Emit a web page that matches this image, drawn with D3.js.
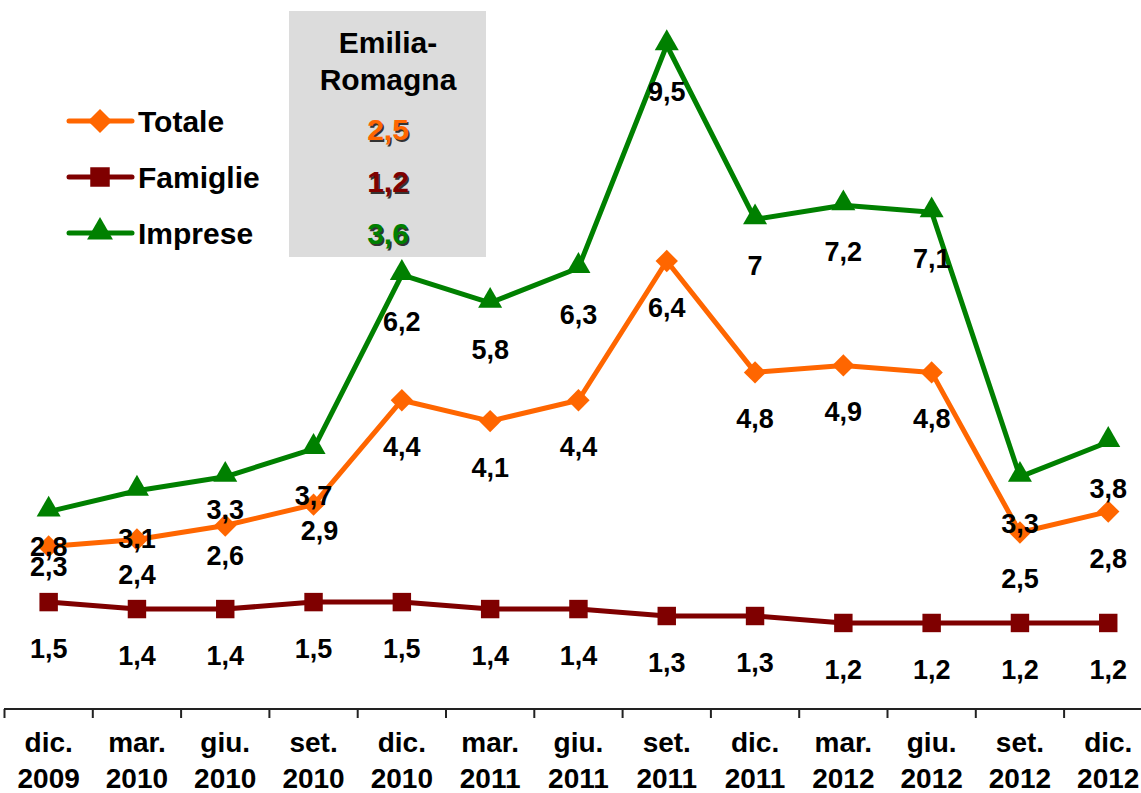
<!DOCTYPE html>
<html>
<head>
<meta charset="utf-8">
<script src="https://cdn.jsdelivr.net/npm/d3@7/dist/d3.min.js"></script>
<style>
  html, body { margin: 0; padding: 0; background: #fff; }
  svg { display: block; font-family: "Liberation Sans", Arial, sans-serif; }
</style>
</head>
<body>
<svg id="chart" width="1141" height="793"></svg>
<script>
// ---- data ----
const months = ["dic.", "mar.", "giu.", "set.", "dic.", "mar.", "giu.", "set.", "dic.", "mar.", "giu.", "set.", "dic."];
const years  = ["2009", "2010", "2010", "2010", "2010", "2011", "2011", "2011", "2011", "2012", "2012", "2012", "2012"];
const totale   = [2.3, 2.4, 2.6, 2.9, 4.4, 4.1, 4.4, 6.4, 4.8, 4.9, 4.8, 2.5, 2.8];
const famiglie = [1.5, 1.4, 1.4, 1.5, 1.5, 1.4, 1.4, 1.3, 1.3, 1.2, 1.2, 1.2, 1.2];
const imprese  = [2.8, 3.1, 3.3, 3.7, 6.2, 5.8, 6.3, 9.5, 7.0, 7.2, 7.1, 3.3, 3.8];
const seriesNames = ["Totale", "Famiglie", "Imprese"];
const regionTitle = ["Emilia-", "Romagna"];
const regionValues = [2.5, 1.2, 3.6];

// ---- layout / style (not data) ----
const colors = { Totale: "#FF6600", Famiglie: "#7F0000", Imprese: "#008000" };
// square diamond (equal width and height)
const squareDiamond = {
  draw(ctx, size) {
    const r = Math.sqrt(size / 2);
    ctx.moveTo(0, -r); ctx.lineTo(r, 0); ctx.lineTo(0, r); ctx.lineTo(-r, 0); ctx.closePath();
  }
};
const shapes = { Totale: squareDiamond, Famiglie: d3.symbolSquare, Imprese: d3.symbolTriangle };
const symSize = { Totale: 250, Famiglie: 340, Imprese: 250 };
// label nudges (baseline offset below point, x offset) where the original labels were shifted
const labelNudge = {
  Imprese: { 0: [44, 0], 1: [57, 0], 2: [42, 0], 3: [56, 0] },
  Totale:  { 0: [30, 0], 1: [45, 0], 2: [39, 0], 3: [35, 6] }
};
const defaultDy = 56;

const fmt = v => String(v).replace(".", ",");

const svg = d3.select("#chart");
const categories = months.map((m, i) => i);

const x = d3.scaleBand().domain(categories).range([4.5, 4.5 + 88.3 * 13]).paddingInner(0).paddingOuter(0);
const y = d3.scaleLinear().domain([0, 10.15]).range([706.5, 0]);

// legend grey box
svg.append("rect").attr("x", 289).attr("y", 11).attr("width", 197).attr("height", 246).attr("fill", "#DCDCDC");

// x axis
const axisG = svg.append("g").attr("transform", "translate(0,709)");
const xAxis = d3.axisBottom(x).tickSize(0).tickFormat("");
axisG.call(xAxis);
axisG.select(".domain").attr("stroke", "#222").attr("stroke-width", 2).attr("d", "M4,0H1141");
// boundary ticks
const bounds = d3.range(0, 14).map(i => x.range()[0] + x.step() * i);
axisG.selectAll("line.btick").data(bounds).enter().append("line")
  .attr("class", "btick")
  .attr("x1", d => d).attr("x2", d => d).attr("y1", 0).attr("y2", 9)
  .attr("stroke", "#222").attr("stroke-width", 2);

// category labels
const cx = i => x(i) + x.bandwidth() / 2;
const labG = svg.append("g");
labG.selectAll("text.m").data(months).enter().append("text")
  .attr("x", (d, i) => cx(i)).attr("y", 752)
  .attr("text-anchor", "middle").attr("font-weight", "bold").attr("font-size", 28)
  .attr("fill", "#000").text(d => d);
labG.selectAll("text.yr").data(years).enter().append("text")
  .attr("x", (d, i) => cx(i)).attr("y", 788)
  .attr("text-anchor", "middle").attr("font-weight", "bold").attr("font-size", 28)
  .attr("fill", "#000").text(d => d);

// series
const seriesData = { Totale: totale, Famiglie: famiglie, Imprese: imprese };
const drawOrder = ["Imprese", "Totale", "Famiglie"];
const line = d3.line().x((d, i) => cx(i)).y(d => y(d));

drawOrder.forEach(name => {
  const vals = seriesData[name];
  svg.append("path").datum(vals)
    .attr("d", line).attr("fill", "none")
    .attr("stroke", colors[name]).attr("stroke-width", 5).attr("stroke-linejoin", "round");
  const sym = d3.symbol().type(shapes[name]).size(symSize[name]);
  svg.append("g").selectAll("path").data(vals).enter().append("path")
    .attr("d", sym)
    .attr("transform", (d, i) => {
      const dy = name === "Imprese" ? -2 : 0;
      return `translate(${cx(i)},${y(d) + dy})`;
    })
    .attr("fill", colors[name]);
});

// data labels
drawOrder.forEach(name => {
  const vals = seriesData[name];
  svg.append("g").selectAll("text").data(vals).enter().append("text")
    .attr("x", (d, i) => cx(i) + ((labelNudge[name] && labelNudge[name][i]) ? labelNudge[name][i][1] : 0))
    .attr("y", (d, i) => y(d) + ((labelNudge[name] && labelNudge[name][i]) ? labelNudge[name][i][0] : defaultDy))
    .attr("text-anchor", "middle").attr("font-weight", "bold").attr("font-size", 27)
    .attr("fill", "#000").text(d => fmt(d));
});

// legend
const legY = [121, 177, 233];
seriesNames.forEach((name, k) => {
  const g = svg.append("g");
  g.append("line").attr("x1", 69).attr("x2", 132).attr("y1", legY[k]).attr("y2", legY[k])
    .attr("stroke", colors[name]).attr("stroke-width", 5).attr("stroke-linecap", "round");
  g.append("path").attr("d", d3.symbol().type(shapes[name]).size(symSize[name] + 40)())
    .attr("transform", `translate(100,${legY[k] - (name === "Imprese" ? 1 : 0)})`)
    .attr("fill", colors[name]);
  g.append("text").attr("x", 138).attr("y", legY[k] + 11)
    .attr("font-weight", "bold").attr("font-size", 30).attr("fill", "#000").text(name);
});

// region header
svg.append("text").attr("x", 388).attr("y", 53).attr("text-anchor", "middle")
  .attr("font-weight", "bold").attr("font-size", 30).attr("fill", "#000").text(regionTitle[0]);
svg.append("text").attr("x", 388).attr("y", 90).attr("text-anchor", "middle")
  .attr("font-weight", "bold").attr("font-size", 30).attr("fill", "#000").text(regionTitle[1]);
const valY = [140, 192, 244];
regionValues.forEach((v, k) => {
  const name = seriesNames[k];
  svg.append("text").attr("x", 389.5).attr("y", valY[k] + 1.5).attr("text-anchor", "middle")
    .attr("font-weight", "bold").attr("font-size", 30).attr("fill", "#333").text(fmt(v));
  svg.append("text").attr("x", 388).attr("y", valY[k]).attr("text-anchor", "middle")
    .attr("font-weight", "bold").attr("font-size", 30).attr("fill", colors[name]).text(fmt(v));
});
</script>
</body>
</html>
